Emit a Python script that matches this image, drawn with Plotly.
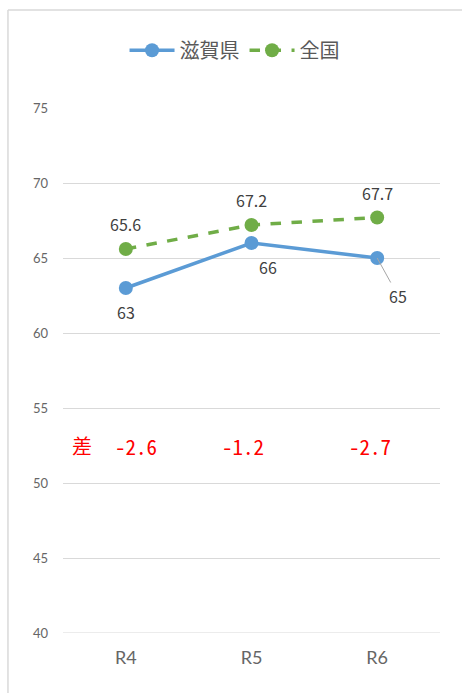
import plotly.graph_objects as go

# Survey years and results
years = ["R4", "R5", "R6"]
shiga = [63, 66, 65]
national = [65.6, 67.2, 67.7]
y_ticks = [40, 45, 50, 55, 60, 65, 70, 75]

BLUE = "#5B9BD5"
GREEN = "#70AD47"
FONT = "Noto Sans CJK JP"
GRID = "#d9d9d9"

fig = go.Figure()
fig.add_trace(go.Scatter(
    x=years, y=shiga, name="滋賀県", mode="lines+markers",
    line=dict(color=BLUE, width=3.5),
    marker=dict(size=14, color=BLUE),
))
fig.add_trace(go.Scatter(
    x=years, y=national, name="全国", mode="lines+markers",
    line=dict(color=GREEN, width=3.5, dash="dash"),
    marker=dict(size=14, color=GREEN),
))

annotations = []
label_font = dict(family=FONT, size=16, color="#404040")

# Value labels for 滋賀県
shiga_offsets = [(0, -24, False), (16, -24, False), (0, 0, True)]
for yr, v, (dx, dy, lead) in zip(years, shiga, shiga_offsets):
    if lead:
        annotations.append(dict(
            x=yr, y=v, text=f"{v:g}", showarrow=True, arrowhead=0,
            arrowwidth=1, arrowcolor="#a6a6a6", ax=21, ay=38,
            font=label_font, standoff=0,
        ))
    else:
        annotations.append(dict(
            x=yr, y=v, text=f"{v:g}", showarrow=False,
            xshift=dx, yshift=dy, font=label_font,
        ))

# Value labels for 全国
for yr, v in zip(years, national):
    annotations.append(dict(
        x=yr, y=v, text=f"{v:g}", showarrow=False,
        yshift=25, font=label_font,
    ))

# Difference row
red_font = dict(family="Noto Sans Mono CJK JP, Liberation Mono, monospace",
                size=21, color="#FF0000")
annotations.append(dict(
    x=-0.35, y=52.47, xref="x", yref="y", text="差",
    showarrow=False, font=dict(family=FONT, size=20, color="#FF0000"),
))
diff_shift = [10, -9, -7]
for yr, s, n, dx in zip(years, shiga, national, diff_shift):
    annotations.append(dict(
        x=yr, y=52.47, text=f"{round(s - n, 1):g}", showarrow=False,
        xshift=dx, font=red_font,
    ))

# Frame lines around the chart, plus the bottom gridline at the axis edge
shapes = [
    dict(type="line", xref="paper", yref="paper",
         x0=-0.146, x1=1.2, y0=1.1867, y1=1.1867,
         line=dict(color=GRID, width=1.5)),
    dict(type="line", xref="paper", yref="paper",
         x0=-0.146, x1=-0.146, y0=1.1867, y1=-0.2,
         line=dict(color=GRID, width=1.5)),
    dict(type="line", xref="paper", yref="y",
         x0=0, x1=1, y0=y_ticks[0], y1=y_ticks[0],
         line=dict(color=GRID, width=1), layer="below"),
]

fig.update_layout(
    width=462, height=693,
    margin=dict(l=63, r=22, t=108, b=60),
    paper_bgcolor="white", plot_bgcolor="white",
    font=dict(family=FONT),
    showlegend=True,
    legend=dict(
        orientation="h", x=0.455, xanchor="center", y=1.11, yanchor="middle",
        font=dict(family=FONT, size=20, color="#595959"),
        itemwidth=45,
    ),
    xaxis=dict(
        type="category", range=[-0.5, 2.5], showgrid=False,
        showline=False, ticks="",
        tickfont=dict(family="Lato", size=18, color="#666666"),
        ticklabelstandoff=12,
    ),
    yaxis=dict(
        range=[40, 75], tickvals=y_ticks, showgrid=True,
        gridcolor=GRID, gridwidth=1, zeroline=False, showline=False,
        tickfont=dict(family="Lato", size=13, color="#666666"),
        ticklabelstandoff=14,
    ),
    annotations=annotations,
    shapes=shapes,
)

fig.write_html("out.html")
